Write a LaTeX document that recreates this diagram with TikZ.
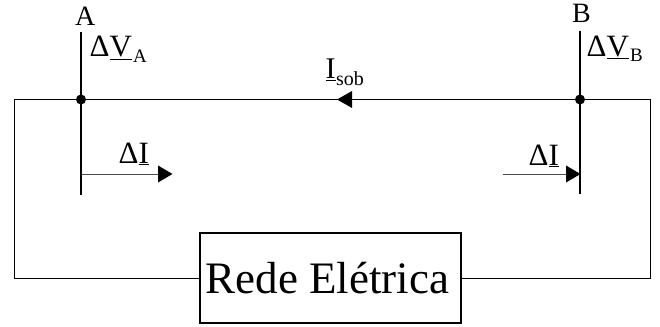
\documentclass[tikz,border=0pt]{standalone}
\usepackage{fontspec}
\setmainfont{Liberation Serif}
\newcommand{\fsz}[1]{\fontsize{#1}{#1}\selectfont}
\newcommand{\ulin}[1]{\underline{#1}}
\tikzset{
  wire/.style={line width=1pt,draw=black},
  busbar/.style={line width=2.7pt,draw=black},
  flow/.style={line width=1pt,draw=black!70},
  headtip/.style={fill=black,draw=none},
  junction/.style={circle,fill=black,inner sep=0pt,minimum size=10pt},
  lab/.style={inner sep=0pt,anchor=base west,text=black},
  netbox/.style={draw=black,line width=1.3pt,fill=white,minimum width=261pt,minimum height=90pt,inner sep=0pt,font=\fsz{45}}
}
\begin{document}
\begin{tikzpicture}[x=1pt,y=-1pt]
\useasboundingbox (0,0) rectangle (660,326);
\coordinate (atop) at (81,32);
\coordinate (abot) at (81,195);
\coordinate (btop) at (580,31);
\coordinate (bbot) at (580,194);
\coordinate (cl) at (14,99.5);
\coordinate (cr) at (650,99.5);
\coordinate (ia0) at (82,174);
\coordinate (ia1) at (158,174);
\coordinate (ib0) at (503,174);
\coordinate (ib1) at (566,174);
\node[netbox] (net) at (330.5,278) {\hspace*{-6pt}Rede Elétrica};
\node[junction] (ja) at (81,99.5) {};
\node[junction] (jb) at (580,99.5) {};
\draw[wire] (net.west) -| (cl) -- (cr) |- (net.east);
\draw[busbar] (atop) -- (abot);
\draw[busbar] (btop) -- (bbot);
\draw[flow] (ia0) -- (ia1);
\draw[flow] (ib0) -- (ib1);
\fill[headtip] (ia1) -- ++(0,-8.5) -- ++(14.5,8.5) -- ++(-14.5,8.5) -- cycle;
\fill[headtip] (ib1) -- ++(0,-8.5) -- ++(14.5,8.5) -- ++(-14.5,8.5) -- cycle;
\fill[headtip] (337,99.5) -- ++(15,-8.5) -- ++(0,17) -- cycle;
\node[lab,font=\fsz{28}] (la) at (75,26) {A};
\node[lab,font=\fsz{28}] (lb) at (572,23) {B};
\node[lab,font=\fsz{31}] (dva) at (89.5,57) {Δ\ulin{V}};
\node[lab,font=\fsz{19}] (sa) at (133,62.5) {A};
\node[lab,font=\fsz{31}] (dvb) at (586.5,56.5) {Δ\ulin{V}};
\node[lab,font=\fsz{19}] (sb) at (630,62) {B};
\node[lab,font=\fsz{31}] (ia) at (118.5,163) {Δ\ulin{I}};
\node[lab,font=\fsz{31}] (ib) at (528.5,165) {Δ\ulin{I}};
\node[lab,font=\fsz{30}] (is) at (325.5,79) {\ulin{I}};
\node[lab,font=\fsz{20}] (iss) at (336,85) {sob};
\end{tikzpicture}
\end{document}
